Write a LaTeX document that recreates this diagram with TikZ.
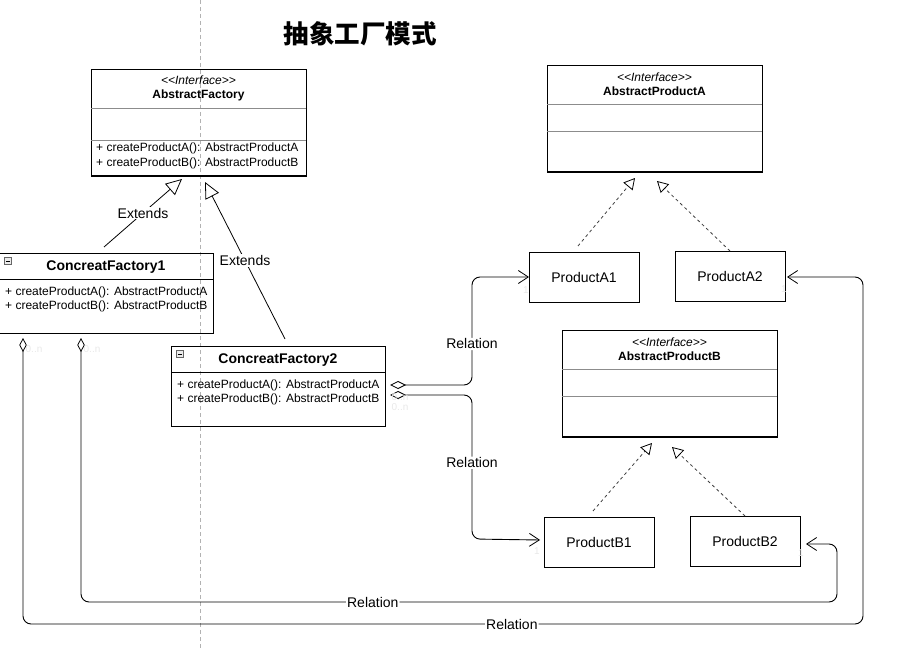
\documentclass[tikz,border=0pt]{standalone}
\usepackage{fontspec}
\setmainfont{Liberation Sans}
\newfontfamily\cjk{Noto Sans CJK SC}
\usetikzlibrary{arrows.meta,calc}
\newcommand{\ifacetxt}{<\kern0pt<Interface>\kern0pt>}
\tikzset{
  box/.style={draw, line width=0.9pt, anchor=north west, inner sep=0pt, outer sep=0pt},
  divg/.style={draw=black!45, line width=0.8pt},
  divb/.style={draw=black, line width=0.9pt},
  stereo/.style={inner sep=0pt, font=\fontsize{12}{14}\selectfont\itshape},
  cname/.style={inner sep=0pt, font=\fontsize{12}{14}\selectfont\bfseries},
  bigname/.style={inner sep=0pt, font=\fontsize{14}{16}\selectfont\bfseries},
  meth/.style={inner sep=0pt, anchor=west, font=\fontsize{12}{14}\selectfont},
  pname/.style={inner sep=0pt, font=\fontsize{14}{16}\selectfont},
  lbl/.style={fill=white, inner sep=1pt, font=\fontsize{14}{16}\selectfont},
  faint/.style={inner sep=0pt, text=black!9, font=\fontsize{10}{12}\selectfont},
  ext/.style={draw, line width=0.8pt, -{Triangle[open, length=16pt, width=15pt, line width=0.8pt]}},
  real/.style={draw=black!75, line width=0.8pt, dash pattern=on 3pt off 3pt, -{Triangle[open, length=11pt, width=12pt, line width=0.8pt, color=black]}},
  rel/.style={draw, line width=0.9pt, rounded corners=8pt, {Diamond[open, length=16pt, width=8pt, line width=0.8pt]}-{Straight Barb[length=10pt, width=13pt, line width=0.8pt]}},
  relv/.style={draw, line width=0.9pt, rounded corners=8pt, {Diamond[open, length=14pt, width=7.5pt, line width=0.8pt]}-{Straight Barb[length=10pt, width=13pt, line width=0.8pt]}},
  mini/.style={draw=black!60, fill=black!8, line width=0.5pt, minimum width=7pt, minimum height=7pt, inner sep=0pt},
}
\begin{document}
\begin{tikzpicture}[x=1pt,y=-1pt]
\useasboundingbox (0,0) rectangle (903,650);
% vertical dashed guide
\draw[black!30, line width=0.6pt, dash pattern=on 4pt off 3pt] (200,0) -- (200,650);

% title
\node[inner sep=0pt] (title) at (360,34) {\cjk\bfseries\fontsize{25.5}{28}\selectfont 抽象工厂模式};

% AbstractFactory
\node[box, minimum width=215pt, minimum height=107pt] (af) at (91,69) {};
\draw[line width=1.6pt] (af.south west) -- (af.south east);
\draw[divg] ($(af.north west)+(0,39)$) -- ($(af.north east)+(0,39)$);
\draw[divg] ($(af.north west)+(0,71)$) -- ($(af.north east)+(0,71)$);
\node[stereo] (afs) at (198.5,80) {\ifacetxt};
\node[cname] (afn) at (198.5,95) {AbstractFactory};
\node[meth] (afm1) at (96,148) {+ createProductA(): AbstractProductA};
\node[meth] (afm2) at (96,163) {+ createProductB(): AbstractProductB};

% ConcreatFactory1
\node[box, minimum width=214pt, minimum height=80pt] (cf1) at (-1,253) {};
\draw[divb] ($(cf1.north west)+(0,26)$) -- ($(cf1.north east)+(0,26)$);
\node[mini] (cf1i) at (8,261) {};
\draw[line width=0.6pt] ($(cf1i.west)+(1.5,0)$) -- ($(cf1i.east)+(-1.5,0)$);
\node[bigname] (cf1n) at (106,267) {ConcreatFactory1};
\node[meth] (cf1m1) at (5,292) {+ createProductA(): AbstractProductA};
\node[meth] (cf1m2) at (5,306) {+ createProductB(): AbstractProductB};

% ConcreatFactory2
\node[box, minimum width=214pt, minimum height=80pt] (cf2) at (171,346) {};
\draw[divb] ($(cf2.north west)+(0,26)$) -- ($(cf2.north east)+(0,26)$);
\node[mini] (cf2i) at (180,354) {};
\draw[line width=0.6pt] ($(cf2i.west)+(1.5,0)$) -- ($(cf2i.east)+(-1.5,0)$);
\node[bigname] (cf2n) at (278,360) {ConcreatFactory2};
\node[meth] (cf2m1) at (177,385) {+ createProductA(): AbstractProductA};
\node[meth] (cf2m2) at (177,399) {+ createProductB(): AbstractProductB};

% AbstractProductA
\node[box, minimum width=215pt, minimum height=107pt] (apa) at (547,65) {};
\draw[line width=1.6pt] (apa.south west) -- (apa.south east);
\draw[divg] ($(apa.north west)+(0,39)$) -- ($(apa.north east)+(0,39)$);
\draw[divg] ($(apa.north west)+(0,66)$) -- ($(apa.north east)+(0,66)$);
\node[stereo] (apas) at (654.5,77) {\ifacetxt};
\node[cname] (apan) at (654.5,91) {AbstractProductA};

% AbstractProductB
\node[box, minimum width=215pt, minimum height=107pt] (apb) at (562,330) {};
\draw[line width=1.6pt] (apb.south west) -- (apb.south east);
\draw[divg] ($(apb.north west)+(0,39)$) -- ($(apb.north east)+(0,39)$);
\draw[divg] ($(apb.north west)+(0,66)$) -- ($(apb.north east)+(0,66)$);
\node[stereo] (apbs) at (669.5,342) {\ifacetxt};
\node[cname] (apbn) at (669.5,356) {AbstractProductB};

% products
\node[box, minimum width=110pt, minimum height=50pt] (pa1) at (529,252) {};
\node[pname] (pa1t) at (pa1.center) {ProductA1};
\node[box, minimum width=110pt, minimum height=50pt] (pa2) at (675,251) {};
\node[pname] (pa2t) at (pa2.center) {ProductA2};
\node[box, minimum width=110pt, minimum height=50pt] (pb1) at (544,517) {};
\node[pname] (pb1t) at (pb1.center) {ProductB1};
\node[box, minimum width=110pt, minimum height=50pt] (pb2) at (690,516) {};
\node[pname] (pb2t) at (pb2.center) {ProductB2};

% generalisation
\draw[ext] ($(cf1.north)+(-2,-6)$) -- node[lbl] (e1) {Extends} ($(af.south)+(-16.5,3)$);
\draw[ext] ($(cf2.north)+(7,-7)$) -- node[lbl] (e2) {Extends} ($(af.south)+(6.5,6)$);

% realisation
\draw[real] ($(pa1.north)+(-6,-6)$) -- ($(apa.south)+(-19.5,6)$);
\draw[real] (pa2.north) -- ($(apa.south)+(2.5,9)$);
\draw[real] ($(pb1.north)+(-6,-6)$) -- ($(apb.south)+(-17.5,6)$);
\draw[real] (pb2.north) -- ($(apb.south)+(2.5,10)$);

% relations
\draw[rel] ($(cf2.east)+(5,-1)$) -- (472,385) -- node[lbl, pos=0.38] (r1) {Relation} (472,277) -- (pa1.west);
\draw[rel] ($(cf2.east)+(5,9)$) -- (472,395) -- node[lbl, pos=0.47] (r2) {Relation} (472,539) -- ($(pb1.west)+(-4,-2)$);
\draw[relv] ($(cf1.south west)+(82,5)$) -- (81,602) -- node[lbl, pos=0.386] (r3) {Relation} (837,602) -- (837,544) -- ($(pb2.east)+(6,3)$);
\draw[relv] ($(cf1.south west)+(24,5)$) -- (23,624) -- node[lbl, pos=0.582] (r4) {Relation} (863,624) -- (863,277) -- ($(pa2.east)+(2,1)$);

% faint multiplicities
\node[faint] (m1) at (34,349) {0..n};
\node[faint] (m2) at (92,349) {0..n};
\node[faint] (m3) at (400,397) {0..n};
\node[faint] (m4) at (400,407) {0..n};
\node[faint] (m5) at (526,290) {1};
\node[faint] (m6) at (784,289) {1};
\node[faint] (m7) at (537,551) {1};
\node[faint] (m8) at (801,553) {1};
\end{tikzpicture}
\end{document}
